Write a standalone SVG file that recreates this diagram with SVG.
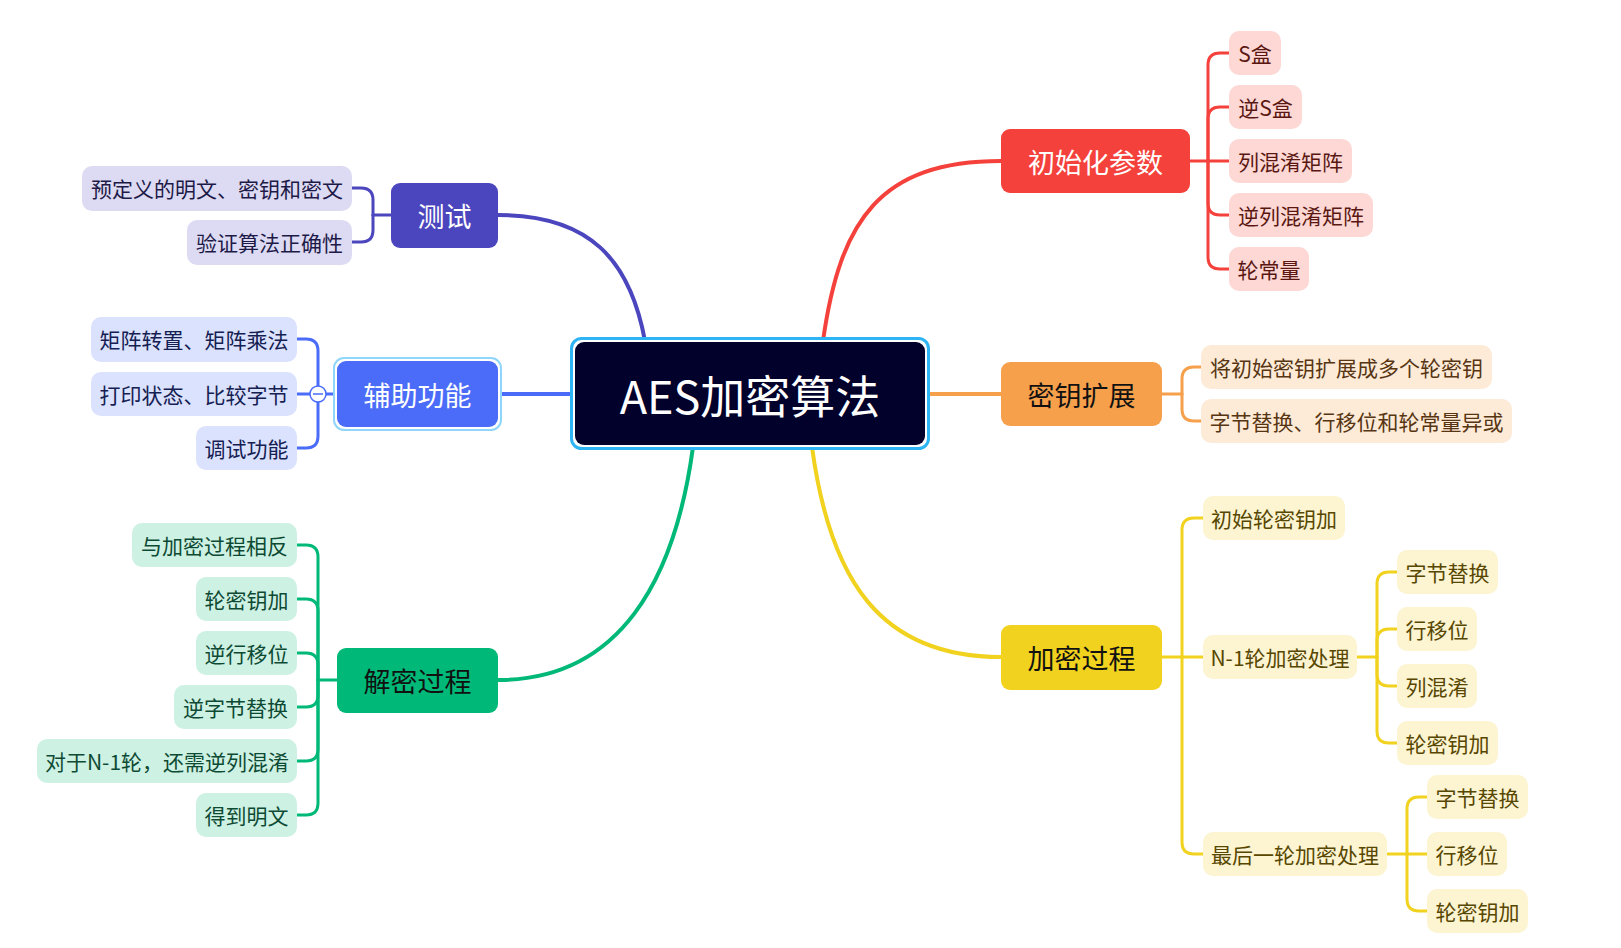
<svg xmlns="http://www.w3.org/2000/svg" width="1621" height="948" viewBox="0 0 1621 948">
<style>
text{font-family:"Noto Sans CJK SC","Noto Sans",sans-serif;text-anchor:middle;dominant-baseline:central}
.lf{font-size:21px}
.mn{font-size:27px}
.c path{fill:none;stroke-linecap:round}
.r{stroke:#f5413b}.i{stroke:#4c46be}.b{stroke:#4a6cf8}.o{stroke:#f6a04c}.y{stroke:#f1d21e}.g{stroke:#00b978}
.w4{stroke-width:4}.w3{stroke-width:3}
</style>
<rect width="1621" height="948" fill="#ffffff"/>
<g id="connectors" class="c">
<path class="r w4" d="M823 341 C840 220 880 161 1001 161"/>
<path class="i w4" d="M645 341 C630 260 590 215 498 215"/>
<path class="y w4" d="M812 447 C830 580 880 657 1001 657"/>
<path class="g w4" d="M693 447 C675 580 620 680 498 680"/>
<path class="b w4" d="M498 394 H572"/>
<path class="o w4" d="M928 394 H1001"/>
<g class="r w3">
<path d="M1189 161 H1208"/>
<path d="M1208 161 V65 Q1208 53 1220 53 H1229"/>
<path d="M1208 161 V119 Q1208 107 1220 107 H1229"/>
<path d="M1208 161 H1229"/>
<path d="M1208 161 V203 Q1208 215 1220 215 H1229"/>
<path d="M1208 161 V257 Q1208 269 1220 269 H1229"/>
</g>
<g class="i w3">
<path d="M391 215 H373"/>
<path d="M373 215 V200 Q373 188 361 188 H352"/>
<path d="M373 215 V230 Q373 242 361 242 H352"/>
</g>
<g class="b w3">
<path d="M337 394 H318"/>
<path d="M318 394 V351 Q318 339 306 339 H297"/>
<path d="M318 394 H297"/>
<path d="M318 394 V436 Q318 448 306 448 H297"/>
</g>
<g class="g w3">
<path d="M337 680 H318"/>
<path d="M318 680 V557 Q318 545 306 545 H297"/>
<path d="M318 680 V611 Q318 599 306 599 H297"/>
<path d="M318 680 V665 Q318 653 306 653 H297"/>
<path d="M318 680 V695 Q318 707 306 707 H297"/>
<path d="M318 680 V749 Q318 761 306 761 H297"/>
<path d="M318 680 V803 Q318 815 306 815 H297"/>
</g>
<g class="o w3">
<path d="M1162 394 H1182"/>
<path d="M1182 394 V379 Q1182 367 1194 367 H1201"/>
<path d="M1182 394 V409 Q1182 421 1194 421 H1201"/>
</g>
<g class="y w3">
<path d="M1162 657 H1182"/>
<path d="M1182 657 V530 Q1182 518 1194 518 H1203"/>
<path d="M1182 657 H1203"/>
<path d="M1182 657 V842 Q1182 854 1194 854 H1203"/>
<path d="M1357 657 H1377"/>
<path d="M1377 657 V584 Q1377 572 1389 572 H1397"/>
<path d="M1377 657 V641 Q1377 629 1389 629 H1397"/>
<path d="M1377 657 V674 Q1377 686 1389 686 H1397"/>
<path d="M1377 657 V731 Q1377 743 1389 743 H1397"/>
<path d="M1387 854 H1407"/>
<path d="M1407 854 V809 Q1407 797 1419 797 H1427"/>
<path d="M1407 854 H1427"/>
<path d="M1407 854 V899 Q1407 911 1419 911 H1427"/>
</g>
</g>

<g id="root">
<rect x="571.5" y="338.5" width="357" height="110" rx="10" fill="#ffffff" stroke="#2db4f4" stroke-width="3"/>
<rect x="575" y="342" width="350" height="103" rx="9" fill="#02012b"/>
<text x="750" y="394" font-size="45" fill="#ffffff">AES加密算法</text>
</g>

<g id="init">
<rect x="1001" y="129" width="189" height="64" rx="9" fill="#f5413b"/>
<text class="mn" x="1095.5" y="161" fill="#ffffff">初始化参数</text>
</g>
<g id="init-1"><rect x="1229" y="31" width="52" height="44" rx="10" fill="#fdd8d5"/><text class="lf" x="1255" y="53" fill="#5a1712">S盒</text></g>
<g id="init-2"><rect x="1229" y="85" width="73" height="44" rx="10" fill="#fdd8d5"/><text class="lf" x="1265.5" y="107" fill="#5a1712">逆S盒</text></g>
<g id="init-3"><rect x="1229" y="139" width="123" height="44" rx="10" fill="#fdd8d5"/><text class="lf" x="1290.5" y="161" fill="#5a1712">列混淆矩阵</text></g>
<g id="init-4"><rect x="1229" y="193" width="144" height="44" rx="10" fill="#fdd8d5"/><text class="lf" x="1301" y="215" fill="#5a1712">逆列混淆矩阵</text></g>
<g id="init-5"><rect x="1229" y="247" width="80" height="44" rx="10" fill="#fdd8d5"/><text class="lf" x="1269" y="269" fill="#5a1712">轮常量</text></g>

<g id="test">
<rect x="391" y="183" width="107" height="65" rx="9" fill="#4c46be"/>
<text class="mn" x="444.5" y="215" fill="#ffffff">测试</text>
</g>
<g id="test-1"><rect x="82" y="166" width="270" height="45" rx="10" fill="#dddbf3"/><text class="lf" x="217" y="188" fill="#1d1a48">预定义的明文、密钥和密文</text></g>
<g id="test-2"><rect x="187" y="220" width="165" height="45" rx="10" fill="#dddbf3"/><text class="lf" x="269.5" y="242" fill="#1d1a48">验证算法正确性</text></g>

<g id="aux">
<rect x="334" y="358" width="167" height="72" rx="10" fill="#ffffff" stroke="#8fd6fa" stroke-width="2"/>
<rect x="337" y="361" width="161" height="66" rx="9" fill="#4a6cf8"/>
<text class="mn" x="417.5" y="394" fill="#ffffff">辅助功能</text>
</g>
<g id="aux-1"><rect x="91" y="317" width="206" height="45" rx="10" fill="#dbe2fe"/><text class="lf" x="194" y="339" fill="#142052">矩阵转置、矩阵乘法</text></g>
<g id="aux-2"><rect x="91" y="372" width="206" height="44" rx="10" fill="#dbe2fe"/><text class="lf" x="194" y="394" fill="#142052">打印状态、比较字节</text></g>
<g id="aux-3"><rect x="196" y="426" width="101" height="44" rx="10" fill="#dbe2fe"/><text class="lf" x="246.5" y="448" fill="#142052">调试功能</text></g>
<g id="aux-toggle">
<circle cx="318" cy="394" r="8" fill="#ffffff" stroke="#4a6cf8" stroke-width="1.5"/>
<path d="M313 394 H323" stroke="#4a6cf8" stroke-width="1.5"/>
</g>

<g id="keyexp">
<rect x="1001" y="362" width="161" height="64" rx="9" fill="#f6a04c"/>
<text class="mn" x="1081.5" y="394" fill="#111111">密钥扩展</text>
</g>
<g id="keyexp-1"><rect x="1201" y="345" width="291" height="44" rx="10" fill="#fdebd8"/><text class="lf" x="1346.5" y="367" fill="#573512">将初始密钥扩展成多个轮密钥</text></g>
<g id="keyexp-2"><rect x="1201" y="399" width="311" height="44" rx="10" fill="#fdebd8"/><text class="lf" x="1356.5" y="421" fill="#573512">字节替换、行移位和轮常量异或</text></g>

<g id="enc">
<rect x="1001" y="625" width="161" height="65" rx="9" fill="#f1d21e"/>
<text class="mn" x="1081.5" y="657" fill="#111111">加密过程</text>
</g>
<g id="enc-1"><rect x="1203" y="496" width="142" height="44" rx="10" fill="#fdf4d2"/><text class="lf" x="1274" y="518" fill="#574700">初始轮密钥加</text></g>
<g id="enc-2"><rect x="1203" y="635" width="154" height="44" rx="10" fill="#fdf4d2"/><text class="lf" x="1280" y="657" fill="#574700">N-1轮加密处理</text></g>
<g id="enc-2-1"><rect x="1397" y="550" width="101" height="44" rx="10" fill="#fdf4d2"/><text class="lf" x="1447.5" y="572" fill="#574700">字节替换</text></g>
<g id="enc-2-2"><rect x="1397" y="607" width="80" height="44" rx="10" fill="#fdf4d2"/><text class="lf" x="1437" y="629" fill="#574700">行移位</text></g>
<g id="enc-2-3"><rect x="1397" y="664" width="80" height="44" rx="10" fill="#fdf4d2"/><text class="lf" x="1437" y="686" fill="#574700">列混淆</text></g>
<g id="enc-2-4"><rect x="1397" y="721" width="101" height="44" rx="10" fill="#fdf4d2"/><text class="lf" x="1447.5" y="743" fill="#574700">轮密钥加</text></g>
<g id="enc-3"><rect x="1203" y="832" width="184" height="44" rx="10" fill="#fdf4d2"/><text class="lf" x="1295" y="854" fill="#574700">最后一轮加密处理</text></g>
<g id="enc-3-1"><rect x="1427" y="775" width="101" height="44" rx="10" fill="#fdf4d2"/><text class="lf" x="1477.5" y="797" fill="#574700">字节替换</text></g>
<g id="enc-3-2"><rect x="1427" y="832" width="80" height="44" rx="10" fill="#fdf4d2"/><text class="lf" x="1467" y="854" fill="#574700">行移位</text></g>
<g id="enc-3-3"><rect x="1427" y="889" width="101" height="44" rx="10" fill="#fdf4d2"/><text class="lf" x="1477.5" y="911" fill="#574700">轮密钥加</text></g>

<g id="dec">
<rect x="337" y="648" width="161" height="65" rx="9" fill="#00b978"/>
<text class="mn" x="417.5" y="680" fill="#111111">解密过程</text>
</g>
<g id="dec-1"><rect x="132" y="523" width="165" height="44" rx="10" fill="#cdf1e3"/><text class="lf" x="214.5" y="545" fill="#0d4a33">与加密过程相反</text></g>
<g id="dec-2"><rect x="196" y="577" width="101" height="44" rx="10" fill="#cdf1e3"/><text class="lf" x="246.5" y="599" fill="#0d4a33">轮密钥加</text></g>
<g id="dec-3"><rect x="196" y="631" width="101" height="44" rx="10" fill="#cdf1e3"/><text class="lf" x="246.5" y="653" fill="#0d4a33">逆行移位</text></g>
<g id="dec-4"><rect x="174" y="685" width="123" height="44" rx="10" fill="#cdf1e3"/><text class="lf" x="235.5" y="707" fill="#0d4a33">逆字节替换</text></g>
<g id="dec-5"><rect x="37" y="739" width="260" height="44" rx="10" fill="#cdf1e3"/><text class="lf" x="167" y="761" fill="#0d4a33">对于N-1轮，还需逆列混淆</text></g>
<g id="dec-6"><rect x="196" y="793" width="101" height="44" rx="10" fill="#cdf1e3"/><text class="lf" x="246.5" y="815" fill="#0d4a33">得到明文</text></g>
</svg>
